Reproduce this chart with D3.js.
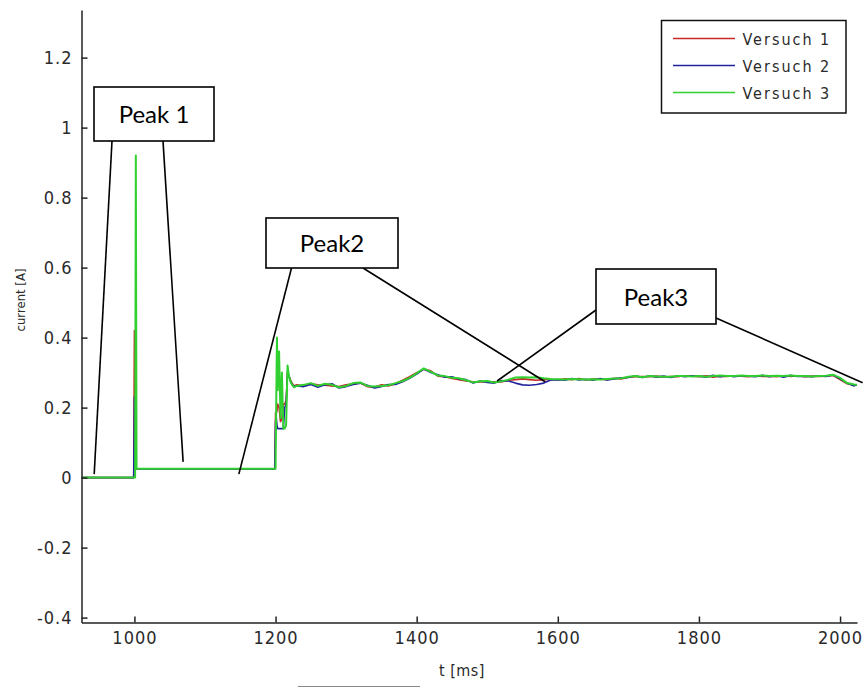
<!DOCTYPE html>
<html>
<head>
<meta charset="utf-8">
<script src="https://cdn.jsdelivr.net/npm/d3@7"></script>
<style>
body { margin: 0; background: #fff; }
svg { display: block; }
.axis text, .lbl { font-family: 'Liberation Sans Narrow', 'DejaVu Sans Condensed', sans-serif; fill: #2a2a2a; }
.axis path, .axis line { stroke: #222; stroke-width: 1.5; }
.callout text { font-family: Lato, 'Open Sans', sans-serif; fill: #000; }
</style>
</head>
<body>
<div id="viz1"></div>
<script>
// =====================
// data
// =====================
const tMs = [925, 999, 1000, 1001, 1002, 1003, 1100, 1199, 1200, 1201, 1202, 1203, 1205, 1207, 1209, 1211, 1213, 1215, 1217, 1219, 1222, 1226, 1230,
  1240, 1250, 1260, 1270, 1280, 1290, 1300, 1310, 1320, 1330,
  1340, 1350, 1360, 1370, 1380, 1390, 1400, 1410, 1420, 1430,
  1440, 1450, 1460, 1470, 1480, 1490, 1500, 1510, 1520, 1530,
  1540, 1550, 1560, 1570, 1580, 1590, 1600, 1610, 1620, 1630,
  1640, 1650, 1660, 1670, 1680, 1690, 1700, 1710, 1720, 1730,
  1740, 1750, 1760, 1770, 1780, 1790, 1800, 1810, 1820, 1830,
  1840, 1850, 1860, 1870, 1880, 1890, 1900, 1910, 1920, 1930,
  1940, 1950, 1960, 1970, 1980, 1990, 2000, 2010, 2020, 2024];

const versuch1 = [0, 0, 0.42, 0.025, 0.025, 0.025, 0.025, 0.025, 0.185, 0.185, 0.19, 0.21, 0.20, 0.16, 0.17, 0.21, 0.21, 0.22, 0.30, 0.29, 0.275, 0.262, 0.265,
  .262, .268, .265, .264, .262, .26, .265, .268, .27, .26,
  .258, .265, .262, .268, .278, .288, .3, .31, .305, .29,
  .288, .283, .28, .276, .274, .273, .274, .274, .273, .278,
  .28, .282, .28, .278, .28, .281, .279, .282, .28, .283,
  .279, .282, .281, .28, .284, .282, .287, .288, .289, .288,
  .29, .287, .289, .288, .291, .29, .288, .291, .287, .29,
  .289, .291, .29, .288, .291, .289, .29, .288, .291, .289,
  .291, .288, .29, .289, .29, .292, .28, .268, .264, .265];

const versuch2 = [0, 0, 0.23, 0.025, 0.025, 0.025, 0.025, 0.025, 0.16, 0.17, 0.15, 0.14, 0.14, 0.14, 0.14, 0.14, 0.20, 0.21, 0.30, 0.29, 0.27, 0.26, 0.262,
  .26, .266, .258, .265, .268, .256, .26, .266, .27, .264,
  .256, .26, .266, .266, .274, .284, .296, .31, .3, .294,
  .287, .288, .282, .28, .27, .276, .272, .27, .277, .276,
  .27, .265, .264, .266, .27, .279, .28, .278, .283, .279,
  .281, .278, .283, .279, .282, .285, .286, .291, .286, .291,
  .287, .29, .286, .291, .288, .291, .29, .287, .292, .288,
  .291, .288, .291, .29, .288, .292, .288, .291, .287, .292,
  .289, .29, .288, .291, .289, .293, .282, .27, .262, .266];

const versuch3 = [0, 0, 0, 0, 0.92, 0.025, 0.025, 0.025, 0.025, 0.22, 0.40, 0.25, 0.36, 0.17, 0.30, 0.14, 0.14, 0.15, 0.32, 0.29, 0.27, 0.258, 0.262,
  .265, .27, .262, .268, .265, .258, .262, .27, .272, .262,
  .26, .262, .264, .27, .276, .285, .298, .312, .302, .292,
  .29, .285, .284, .278, .272, .275, .276, .272, .275, .28,
  .286, .287, .286, .287, .284, .282, .281, .28, .282, .281,
  .28, .281, .28, .282, .283, .284, .288, .29, .287, .29,
  .289, .288, .288, .29, .29, .289, .29, .288, .29, .292,
  .29, .29, .292, .29, .29, .292, .29, .291, .29, .292,
  .29, .29, .289, .29, .291, .294, .285, .27, .266, .265];

const seriesNames = ["Versuch 1", "Versuch 2", "Versuch 3"];
const seriesColors = ["#c62828", "#23239e", "#2fd02f"];
const xTicks = [1000, 1200, 1400, 1600, 1800, 2000];
const yTicks = [-0.4, -0.2, 0, 0.2, 0.4, 0.6, 0.8, 1, 1.2];

// callouts: label, box in px, leader lines from box point to (t, value)
const callLabels = ["Peak 1", "Peak2", "Peak3"];
const callBoxes = [[94, 87, 120, 54], [266, 218, 132, 50], [596, 269, 120, 55]];
const callLeaders = [
  [[112, 141, 943, 0.01], [163, 141, 1069, 0.045]],
  [[291.5, 268, 1148, 0.01], [363, 268, 1582, 0.274]],
  [[596, 310, 1514, 0.276], [716, 318, 2032, 0.271]]
];

// =====================
// set up
// =====================
const outerWidth = 864, outerHeight = 688;
const plot = {left: 81.5, right: 857, top: 10, bottom: 622.5};

const x = d3.scaleLinear().domain([925, 2024]).range([plot.left, plot.right]);
const y = d3.scaleLinear().domain([-0.414, 1.336]).range([plot.bottom, plot.top]);

const svg = d3.select("#viz1").append("svg")
    .attr("width", outerWidth)
    .attr("height", outerHeight);

svg.append("defs").append("clipPath")
    .attr("id", "clip")
  .append("rect")
    .attr("x", plot.left).attr("y", plot.top)
    .attr("width", plot.right - plot.left)
    .attr("height", plot.bottom - plot.top);

// the three runs, drawn in order so green ends up on top
const line = d3.line()
    .x((d, i) => x(tMs[i]))
    .y(d => y(d));

svg.append("g")
    .attr("clip-path", "url(#clip)")
  .selectAll("path")
  .data([versuch1, versuch2, versuch3])
  .join("path")
    .attr("fill", "none")
    .attr("stroke", (d, i) => seriesColors[i])
    .attr("stroke-width", (d, i) => i === 2 ? 2 : 1.6)
    .attr("stroke-linejoin", "round")
    .attr("d", line);

// axes (ticks point inward, matlab style)
const gx = svg.append("g")
    .attr("class", "axis")
    .attr("transform", "translate(0," + plot.bottom + ")")
    .call(d3.axisBottom(x).tickValues(xTicks).tickSizeInner(-6).tickSizeOuter(0).tickPadding(9).tickFormat(d3.format("d")));

const gy = svg.append("g")
    .attr("class", "axis")
    .attr("transform", "translate(" + plot.left + ",0)")
    .call(d3.axisLeft(y).tickValues(yTicks).tickSizeInner(-6).tickSizeOuter(0).tickPadding(9)
        .tickFormat(d => String(+d.toFixed(1))));

svg.selectAll(".axis text")
    .attr("font-size", 18)
    .attr("letter-spacing", 1);

svg.append("text")
    .attr("class", "lbl")
    .attr("x", 462).attr("y", 676)
    .attr("text-anchor", "middle")
    .attr("font-size", 16)
    .attr("letter-spacing", 0.5)
    .text("t [ms]");

svg.append("text")
    .attr("class", "lbl")
    .attr("transform", "translate(25,300) rotate(-90)")
    .attr("text-anchor", "middle")
    .attr("font-size", 13)
    .text("current [A]");

// legend
const leg = svg.append("g").attr("transform", "translate(661.5,20.5)");
leg.append("rect")
    .attr("width", 184.5).attr("height", 92.5)
    .attr("fill", "#fff").attr("stroke", "#111").attr("stroke-width", 1.5);
const legRow = leg.selectAll("g.row")
  .data(seriesNames)
  .join("g")
    .attr("class", "row")
    .attr("transform", (d, i) => "translate(0," + (18 + i * 27) + ")");
legRow.append("line")
    .attr("x1", 11.5).attr("x2", 73.5)
    .attr("stroke", (d, i) => seriesColors[i])
    .attr("stroke-width", 1.6);
legRow.append("text")
    .attr("class", "lbl")
    .attr("x", 81).attr("y", 6)
    .attr("font-size", 16)
    .attr("letter-spacing", 2)
    .text(d => d);

// callouts
const calls = svg.selectAll("g.callout")
  .data(callLabels)
  .join("g")
    .attr("class", "callout");

calls.selectAll("line")
  .data((d, i) => callLeaders[i])
  .join("line")
    .attr("x1", d => d[0]).attr("y1", d => d[1])
    .attr("x2", d => x(d[2])).attr("y2", d => y(d[3]))
    .attr("stroke", "#000").attr("stroke-width", 1.6);

calls.append("rect")
    .attr("x", (d, i) => callBoxes[i][0])
    .attr("y", (d, i) => callBoxes[i][1])
    .attr("width", (d, i) => callBoxes[i][2])
    .attr("height", (d, i) => callBoxes[i][3])
    .attr("fill", "#fff").attr("stroke", "#000").attr("stroke-width", 1.6);

calls.append("text")
    .attr("x", (d, i) => callBoxes[i][0] + callBoxes[i][2] / 2)
    .attr("y", (d, i) => callBoxes[i][1] + callBoxes[i][3] / 2 + 9)
    .attr("text-anchor", "middle")
    .attr("font-size", 24)
    .text(d => d);

// stray rule under the figure
svg.append("line")
    .attr("x1", 298).attr("x2", 420)
    .attr("y1", 686.5).attr("y2", 686.5)
    .attr("stroke", "#888").attr("stroke-width", 1);
</script>
</body>
</html>
